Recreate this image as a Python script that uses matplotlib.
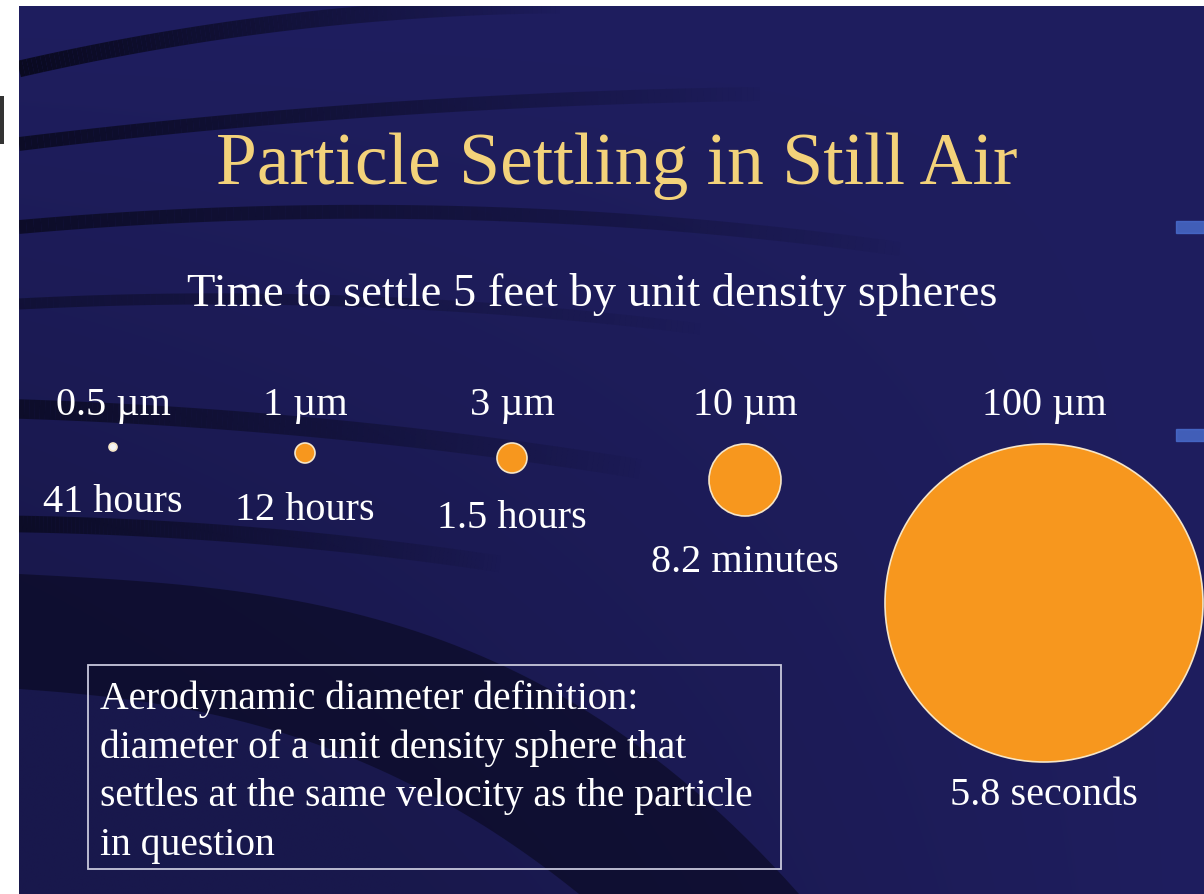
import matplotlib.pyplot as plt
import numpy as np
from matplotlib.patches import Circle, Rectangle, Polygon
from matplotlib.collections import LineCollection

# particle data
size_labels = ['0.5 µm', '1 µm', '3 µm', '10 µm', '100 µm']
settle_times = ['41 hours', '12 hours', '1.5 hours', '8.2 minutes', '5.8 seconds']

# drawing layout (pixel space of the slide)
centers_x = [113, 305, 512, 745, 1044]
centers_y = [448, 454, 459, 481, 604]
radii = [4, 10, 15, 36, 159]
label_y = [406, 406, 406, 406, 406]
time_y = [503, 511, 519, 563, 796]
dot_colors = ['#f4f4f8', '#f7971e', '#f7971e', '#f7971e', '#f7971e']

W, H = 1204, 895
SERIF = ['Liberation Serif', 'DejaVu Serif']

fig = plt.figure(figsize=(W / 100, H / 100), dpi=100)
fig.patch.set_facecolor('white')
ax = fig.add_axes([0, 0, 1, 1])
ax.set_xlim(0, W)
ax.set_ylim(H, 0)
ax.axis('off')

# slide background: navy with a soft gradient
yy, xx = np.mgrid[0:H, 0:W]
base = np.array([31, 30, 95]) / 255.0
shade = 1 - 0.2 * np.clip((yy / H) * (1 - xx / W) * 1.5, 0, 1)
img = base[None, None, :] * shade[..., None]
ax.imshow(img, extent=(19, W, H, 7), zorder=0, aspect='auto')


# dark swooshes, fading out to the right
def band(x0, y0, x1, y1, bend, lw, alpha):
    t = np.linspace(0, 1, 120)
    xs = x0 + (x1 - x0) * t
    ys = y0 + (y1 - y0) * t + bend * 4 * t * (1 - t)
    pts = np.column_stack([xs, ys]).reshape(-1, 1, 2)
    segs = np.concatenate([pts[:-1], pts[1:]], axis=1)
    a = alpha * (1 - t[:-1]) ** 0.8
    cols = [(0.03, 0.03, 0.1, ai) for ai in a]
    ax.add_collection(LineCollection(segs, colors=cols, linewidths=lw,
                                     capstyle='butt', zorder=1))


band(19, 70, 560, 6, -15, 12, 0.9)
band(19, 145, 760, 95, -10, 10, 0.8)
band(19, 228, 900, 250, -25, 10, 0.75)
band(19, 305, 700, 330, -15, 8, 0.5)
band(19, 410, 640, 470, -10, 14, 0.7)
band(19, 525, 500, 565, -8, 12, 0.75)

# big dark sweep at lower left
t = np.linspace(0, 1, 60)
top = np.column_stack([19 + 780 * t, 575 + 40 * t + 280 * t ** 3])
bot = np.column_stack([19 + 560 * t, 690 + 40 * t + 165 * t ** 2.5])[::-1]
ax.add_patch(Polygon(np.vstack([top, bot]), closed=True, fc='#07071a', ec='none',
                     alpha=0.55, zorder=1))

# light blue flecks at right edge
ax.add_patch(Rectangle((1176, 222), 28, 12, color='#4a6fd0', alpha=0.8, zorder=1))
ax.add_patch(Rectangle((1176, 430), 28, 12, color='#4a6fd0', alpha=0.8, zorder=1))

# white page margins on top of the background art
ax.add_patch(Rectangle((0, 0), W, 7, color='white', lw=0, zorder=2))
ax.add_patch(Rectangle((0, 0), 19, H, color='white', lw=0, zorder=2))
ax.add_patch(Rectangle((0, 97), 4, 48, color='#333333', lw=0, zorder=2.5))

# titles
ax.text(617, 166, 'Particle Settling in Still Air', color='#f3d27a', fontsize=53,
        family=SERIF, ha='center', va='center', zorder=3)
ax.text(592, 294, 'Time to settle 5 feet by unit density spheres', color='white',
        fontsize=33.5, family=SERIF, ha='center', va='center', zorder=3)

# particles
for i in range(len(size_labels)):
    ax.add_patch(Circle((centers_x[i], centers_y[i]), radii[i], facecolor=dot_colors[i],
                        edgecolor='#f6e6c8', lw=1.2, zorder=3))
    ax.text(centers_x[i], label_y[i], size_labels[i], color='white', fontsize=29,
            family=SERIF, ha='center', va='center', zorder=3)
    ax.text(centers_x[i], time_y[i], settle_times[i], color='white', fontsize=29,
            family=SERIF, ha='center', va='center', zorder=3)

# definition box
ax.add_patch(Rectangle((88, 666), 693, 204, facecolor='none', edgecolor='#c8c8dc',
                       lw=1.3, zorder=3))
definition = ['Aerodynamic diameter definition:',
              'diameter of a unit density sphere that',
              'settles at the same velocity as the particle',
              'in question']
for k, line in enumerate(definition):
    ax.text(100, 699 + k * 49, line, color='white', fontsize=28.5, family=SERIF,
            ha='left', va='center', zorder=3)

fig.savefig('out.png', dpi=100, facecolor='white')
